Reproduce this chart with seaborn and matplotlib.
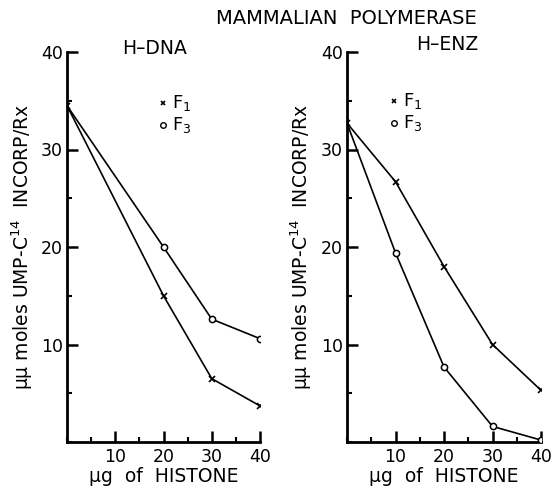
import matplotlib
matplotlib.use("Agg")
import matplotlib.pyplot as plt
from matplotlib.ticker import MultipleLocator
import seaborn as sns
import pandas as pd

# ---- data ----
x_dna = [0, 20, 30, 40]
dna_f1 = [34.5, 15.0, 6.5, 3.7]
dna_f3 = [34.5, 20.0, 12.6, 10.6]

x_enz = [0, 10, 20, 30, 40]
enz_f1 = [32.7, 26.7, 18.0, 10.0, 5.3]
enz_f3 = [32.7, 19.4, 7.7, 1.6, 0.2]

title = "MAMMALIAN  POLYMERASE"
panel_titles = ["H\u2013DNA", "H\u2013ENZ"]
xlabel = "\u03bcg  of  HISTONE"
ylabel = "\u03bc\u03bc moles UMP-C$^{14}$  INCORP/Rx"
xticks = [10, 20, 30, 40]
yticks = [10, 20, 30, 40]

sns.set_theme(style="white")
plt.rcParams["font.family"] = ["DejaVu Sans"]

fig = plt.figure(figsize=(5.51, 4.91), dpi=100)
axL = fig.add_axes([67/551, 1-442/491, (260-67)/551, (442-52)/491])
axR = fig.add_axes([347/551, 1-442/491, (541-347)/551, (442-52)/491])


def draw(ax, x, f1, f3, ttl, ttl_x, ttl_y, leg_x, leg_y, ylab_x):
    df = pd.DataFrame({"x": list(x) * 2, "y": list(f1) + list(f3),
                       "s": ["F1"] * len(x) + ["F3"] * len(x)})
    sns.lineplot(data=df[df.s == "F1"], x="x", y="y", ax=ax, color="black",
                 lw=1.2, marker="x", markersize=4, mew=1.2, mec="black", legend=False)
    sns.lineplot(data=df[df.s == "F3"], x="x", y="y", ax=ax, color="black",
                 lw=1.2, legend=False, zorder=2)
    sns.scatterplot(data=df[df.s == "F3"].iloc[1:], x="x", y="y", ax=ax,
                    marker="o", s=20, linewidth=1.1, edgecolor="black",
                    facecolor="white", legend=False, zorder=5)
    ax.set_xlim(0, 40)
    ax.set_ylim(0, 40)
    ax.set_xticks(xticks)
    ax.set_yticks(yticks)
    ax.xaxis.set_minor_locator(MultipleLocator(5))
    ax.yaxis.set_minor_locator(MultipleLocator(5))
    ax.tick_params(which="major", direction="in", length=8, width=1.8, labelsize=12.5,
                   pad=4, color="black", labelcolor="black")
    ax.tick_params(which="minor", direction="in", length=3.5, width=1.5, color="black")
    ax.tick_params(axis="x", bottom=True, which="both")
    ax.tick_params(axis="y", left=True, which="both", pad=3)
    for s in ["top", "right"]:
        ax.spines[s].set_visible(False)
    for s in ["left", "bottom"]:
        ax.spines[s].set_linewidth(2.0)
        ax.spines[s].set_color("black")
    ax.set_xlabel(xlabel, fontsize=13.5, labelpad=1, color="black")
    ax.set_ylabel(ylabel, fontsize=13.5, color="black")
    ax.yaxis.set_label_coords(ylab_x, 0.5)
    ax.text(ttl_x, ttl_y, ttl, transform=ax.transAxes, fontsize=13.5, ha="center",
            va="center", color="black")
    # legend
    ax.plot([leg_x], [leg_y], marker="x", color="black", markersize=3.5, mew=1.2, ls="none",
            clip_on=False)
    ax.plot([leg_x], [leg_y - 2.3], marker="o", color="black", mfc="white", markersize=4,
            mew=1, ls="none", clip_on=False)
    ax.text(leg_x + 1.8, leg_y, "F$_1$", fontsize=13, va="center", ha="left", color="black")
    ax.text(leg_x + 1.8, leg_y - 2.3, "F$_3$", fontsize=13, va="center", ha="left",
            color="black")


draw(axL, x_dna, dna_f1, dna_f3, panel_titles[0], 0.456, 1.01, 19.9, 34.8, -0.165)
draw(axR, x_enz, enz_f1, enz_f3, panel_titles[1], 0.515, 1.018, 9.7, 35.0, -0.17)

fig.text(346/551, 1-19/491, title, fontsize=14, ha="center", va="center", color="black")

fig.savefig("out.png", dpi=100)
